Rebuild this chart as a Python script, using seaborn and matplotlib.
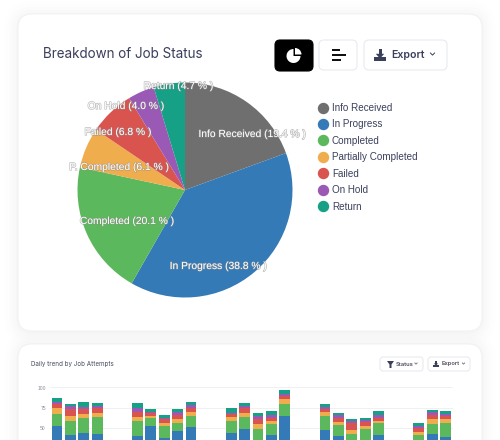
import matplotlib
matplotlib.use('Agg')
import matplotlib.pyplot as plt
import matplotlib.patheffects as pe
from matplotlib.lines import Line2D
from matplotlib.patches import FancyBboxPatch, Wedge, Rectangle, Polygon
import pandas as pd
import seaborn as sns

status_names = ['Info Received', 'In Progress', 'Completed', 'Partially Completed', 'Failed', 'On Hold', 'Return']
status_share = [19.4, 38.8, 20.1, 6.1, 6.8, 4.0, 4.7]
status_labels = ['Info Received (19.4 % )', 'In Progress (38.8 % )', 'Completed (20.1 % )', 'P. Completed (6.1 % )',
                 'Failed (6.8 % )', 'On Hold (4.0 % )', 'Return (4.7 % )']
status_colors = ['#6f6f6f', '#337ab7', '#5cb85c', '#f0ad4e', '#d9534f', '#9b59b6', '#16a085']

days = [0, 1, 2, 3, 6, 7, 8, 9, 10, 13, 14, 15, 16, 17, 20, 21, 22, 23, 24, 27, 28, 29]
in_progress = [52.5, 41.4, 44.3, 42.2, 40.2, 52.5, 38.1, 46.3, 51.3, 44.3, 49.2, 35, 41.4, 65.2, 47.6, 40.2, 33, 35, 41.4, 35, 43, 38.9]
completed = [15.2, 17.6, 18, 21, 18, 9.8, 14.4, 9.9, 13.9, 14.3, 14.5, 14.2, 14, 14.8, 17.6, 13.9, 10, 14.2, 14.8, 6, 11.9, 17.3]
partial = [6.5, 6.2, 5, 5.3, 5, 2.5, 3.3, 4.9, 4.1, 4.6, 5, 5.3, 3.2, 5.3, 4.1, 3.3, 4.6, 3.3, 2.4, 4.1, 6.2, 4.9]
failed = [5.8, 7.8, 5.7, 6.2, 6.9, 3.3, 4.9, 4.9, 5.7, 4.1, 6, 7, 4.2, 4.5, 3.7, 5.4, 8.2, 4.5, 3.7, 4.9, 5.3, 3.3]
on_hold = [2.5, 4.1, 2.9, 2.8, 5, 2, 2.1, 3.3, 2.9, 1.6, 2, 3.3, 3.6, 2.5, 2.9, 2.8, 2.8, 2.9, 3.3, 2.5, 2.9, 3.3]
returned = [4, 2.5, 6.6, 2.9, 5.3, 2.9, 3.2, 3.7, 3.7, 5.3, 3.7, 3.3, 4.2, 4.1, 3.7, 2.5, 2.1, 2.4, 5, 3.7, 2.9, 3.3]
y_ticks = [50, 75, 100]

W, H = 500, 440
sns.set_theme(style='white')
plt.rcParams['font.family'] = ['Liberation Sans', 'DejaVu Sans']

fig = plt.figure(figsize=(W / 100, H / 100), dpi=100)
fig.patch.set_facecolor('white')


def px_axes(x0, y0, x1, y1, z):
    # pixel box (top-left origin) to a figure axes
    return fig.add_axes([x0 / W, 1 - y1 / H, (x1 - x0) / W, (y1 - y0) / H], zorder=z)


def card(ax, x0, y0, x1, y1, r=14):
    for grow, a in [(14, 0.004), (11, 0.005), (8, 0.006), (5, 0.008), (2, 0.012)]:
        ax.add_patch(FancyBboxPatch((x0 - grow, y0 - grow + 1), x1 - x0 + 2 * grow, y1 - y0 + 2 * grow,
                                    boxstyle=f'round,pad=0,rounding_size={r + grow}', fc='black', ec='none', alpha=a))
    ax.add_patch(FancyBboxPatch((x0, y0), x1 - x0, y1 - y0, boxstyle=f'round,pad=0,rounding_size={r}',
                                fc='white', ec='#f0f0f3', lw=0.6))


def button(ax, x0, y0, x1, y1, fc='white', ec='#e9eaf0', r=5):
    ax.add_patch(FancyBboxPatch((x0, y0), x1 - x0, y1 - y0, boxstyle=f'round,pad=0,rounding_size={r}',
                                fc=fc, ec=ec, lw=0.8))


def export_icon(ax, cx, cy, s, color='#3a3f5c'):
    ax.add_patch(Rectangle((cx - s, cy + 0.3 * s), 2 * s, 0.75 * s, fc=color, ec='none'))
    ax.add_patch(Rectangle((cx - 0.25 * s, cy - s), 0.5 * s, s, fc=color, ec='none'))
    ax.add_patch(Polygon([(cx - 0.7 * s, cy - 0.2 * s), (cx + 0.7 * s, cy - 0.2 * s), (cx, cy + 0.6 * s)], fc=color, ec='none'))


def chevron(ax, cx, cy, s, color='#3a3f5c'):
    ax.plot([cx - s, cx, cx + s], [cy - s / 2, cy + s / 2, cy - s / 2], color=color, lw=0.7)


# page background and cards
bg = px_axes(0, 0, W, H, 0)
bg.set_xlim(0, W)
bg.set_ylim(H, 0)
bg.axis('off')
card(bg, 18, 14, 482, 331)
card(bg, 18, 344, 482, 480)

# pie
pie_ax = px_axes(185 - 107.5, 190 - 107.5, 185 + 107.5, 190 + 107.5, 1)
pie_ax.pie(status_share, colors=status_colors, startangle=90, counterclock=False, radius=1,
           wedgeprops={'edgecolor': 'none', 'linewidth': 0})
pie_ax.set_xlim(-1, 1)
pie_ax.set_ylim(-1, 1)

# stacked bars, tallest layer first
df = pd.DataFrame({'day': days, 'In Progress': in_progress, 'Completed': completed, 'Partially Completed': partial,
                   'Failed': failed, 'On Hold': on_hold, 'Return': returned}).set_index('day')
cum = df.cumsum(axis=1).reset_index()
bar_ax = px_axes(50, 387.5, 453, 468.6, 1)
bar_ax.patch.set_alpha(0)
for name, color in reversed(list(zip(status_names[1:], status_colors[1:]))):
    sns.barplot(data=cum, x='day', y=name, order=list(range(30)), color=color, saturation=1, width=0.8,
                ax=bar_ax, zorder=3, edgecolor='none', linewidth=0)
bar_ax.set_xlim(-0.52, 29.55)
bar_ax.set_ylim(0, 100)
bar_ax.set_xlabel('')
bar_ax.set_ylabel('')
bar_ax.set_xticks([])
bar_ax.set_yticks(y_ticks)
bar_ax.set_yticklabels([str(t) for t in y_ticks], fontsize=3.6, color='#8a8d9c')
bar_ax.tick_params(axis='y', length=0, pad=3)
bar_ax.grid(axis='y', color='#f0f0f3', lw=0.7)
bar_ax.set_axisbelow(True)
sns.despine(ax=bar_ax, left=True, bottom=True, top=True, right=True)

# overlay: titles, labels, buttons
ov = px_axes(0, 0, W, H, 2)
ov.set_xlim(0, W)
ov.set_ylim(H, 0)
ov.axis('off')
ov.patch.set_alpha(0)

ov.text(43, 54, 'Breakdown of Job Status', fontsize=9.7, color='#3a3f5c', va='center', ha='left',
        family=['Inter', 'DejaVu Sans'])
ov.text(31, 364, 'Daily trend by Job Attempts', fontsize=4.5, color='#4a4d60', va='center', ha='left',
        family=['Inter', 'DejaVu Sans'])

label_x = [252, 218.5, 127, 119, 118, 126, 178.5]
label_y = [134, 266, 221, 167, 132, 106, 86]
for txt, lx, ly in zip(status_labels, label_x, label_y):
    ov.text(lx, ly, txt, fontsize=7.4, color='white', ha='center', va='center',
            path_effects=[pe.withStroke(linewidth=1.0, foreground='#8c8c8c', alpha=0.55)])

handles = [Line2D([], [], marker='o', ls='none', color=c, markersize=7.2, label=n)
           for n, c in zip(status_names, status_colors)]
fig.legend(handles=handles, loc='upper left', bbox_to_anchor=(316 / W, 1 - 103 / H), frameon=False, fontsize=7.1,
           labelcolor='#3a3f5c', labelspacing=0.655, handletextpad=0.1, borderpad=0, borderaxespad=0,
           handlelength=1.5).set_zorder(5)

# chart type and export buttons
button(ov, 275, 40, 313, 71, fc='black', ec='black')
ov.add_patch(Wedge((293.5, 56), 7, 0, 270, fc='white', ec='none'))
ov.add_patch(Wedge((295, 54.5), 6.5, 270, 360, fc='white', ec='none'))
button(ov, 319, 40, 357, 70)
for bx, by, bw in [(332, 50, 8), (332, 55, 14), (332, 60, 9)]:
    ov.add_patch(Rectangle((bx, by - 1.2), bw, 2.5, fc='#111111', ec='none'))
button(ov, 364, 40, 447, 70)
export_icon(ov, 380, 55, 6)
ov.text(391, 55, 'Export', fontsize=7.6, color='#3a3f5c', va='center', ha='left', fontweight='semibold',
        family=['Inter', 'DejaVu Sans'])
chevron(ov, 432.5, 54, 2.2)

button(ov, 380, 357, 423, 371, r=3)
ov.add_patch(Polygon([(387, 361), (394, 361), (391.5, 364.5), (391.5, 368), (389.5, 368), (389.5, 364.5)], fc='#3a3f5c', ec='none'))
ov.text(396, 364, 'Status', fontsize=4.2, color='#4a4d60', va='center', ha='left', fontweight='semibold',
        family=['Inter', 'DejaVu Sans'])
chevron(ov, 416, 363.5, 1.2, '#7a7d8c')
button(ov, 428, 357, 470, 371, r=3)
export_icon(ov, 436, 364, 3)
ov.text(442, 364, 'Export', fontsize=4.2, color='#4a4d60', va='center', ha='left', fontweight='semibold',
        family=['Inter', 'DejaVu Sans'])
chevron(ov, 463.5, 363.5, 1.2, '#7a7d8c')

fig.savefig('out.png', dpi=100)
